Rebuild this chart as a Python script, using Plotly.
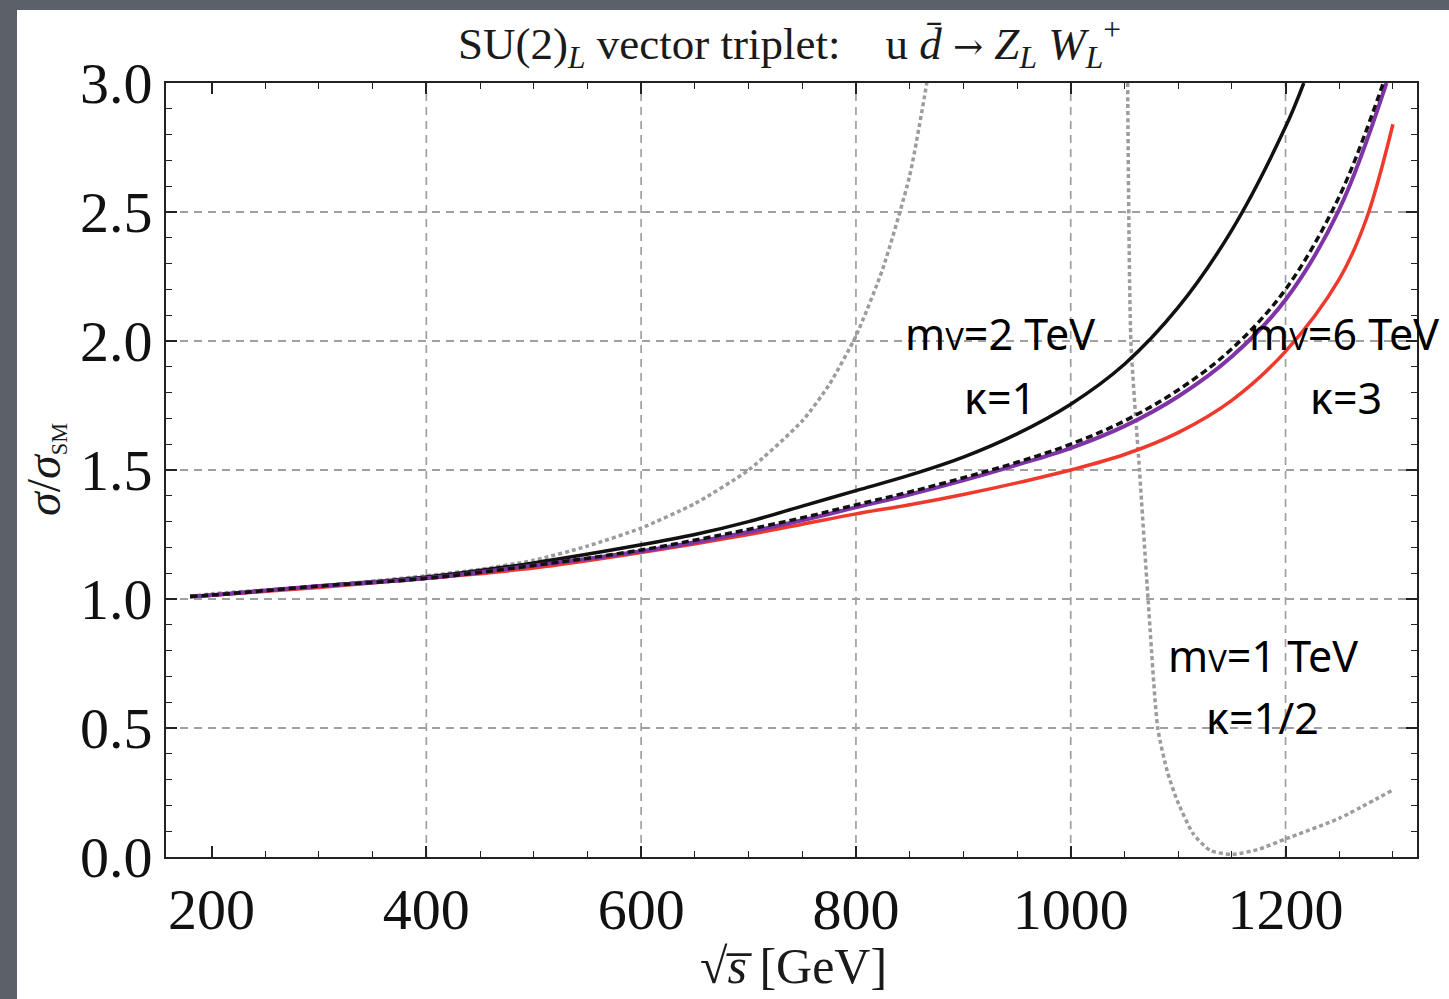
import plotly.graph_objects as go

# ---------------- data ----------------
x_black = [180, 200, 300, 400, 500, 600, 650, 700, 750, 800, 850, 900, 950, 1000, 1050, 1100, 1150, 1200, 1217]
y_black = [1.01, 1.015, 1.05, 1.085, 1.14, 1.21, 1.25, 1.30, 1.36, 1.42, 1.48, 1.55, 1.64, 1.755, 1.91, 2.13, 2.43, 2.83, 3.0]

x_dashed = [180, 200, 300, 400, 500, 600, 700, 750, 800, 850, 900, 950, 1000, 1050, 1100, 1150, 1200, 1250, 1291]
y_dashed = [1.01, 1.015, 1.05, 1.08, 1.13, 1.19, 1.27, 1.315, 1.365, 1.415, 1.47, 1.53, 1.60, 1.69, 1.81, 1.97, 2.20, 2.56, 3.0]

x_purple = [180, 200, 300, 400, 500, 600, 700, 750, 800, 850, 900, 950, 1000, 1050, 1100, 1150, 1200, 1250, 1294]
y_purple = [1.01, 1.015, 1.05, 1.08, 1.13, 1.185, 1.26, 1.305, 1.355, 1.405, 1.46, 1.52, 1.585, 1.67, 1.785, 1.94, 2.16, 2.51, 3.0]

x_red = [180, 200, 300, 400, 500, 600, 700, 750, 800, 850, 900, 950, 1000, 1050, 1100, 1150, 1200, 1250, 1275, 1300]
y_red = [1.01, 1.015, 1.045, 1.08, 1.12, 1.18, 1.25, 1.29, 1.33, 1.365, 1.405, 1.45, 1.50, 1.56, 1.645, 1.77, 1.96, 2.24, 2.47, 2.84]

x_dot_rise = [180, 200, 300, 400, 450, 500, 550, 600, 650, 700, 750, 775, 800, 825, 850, 866]
y_dot_rise = [1.01, 1.02, 1.05, 1.09, 1.115, 1.15, 1.205, 1.275, 1.37, 1.50, 1.69, 1.83, 2.02, 2.28, 2.64, 3.0]

x_dot_fall = [1053, 1056, 1064, 1072, 1081, 1090, 1099, 1114, 1130, 1150, 1175, 1200, 1250, 1300]
y_dot_fall = [3.0, 2.0, 1.5, 1.0, 0.5, 0.33, 0.22, 0.09, 0.025, 0.01, 0.03, 0.07, 0.15, 0.26]

x_gridlines = [400, 600, 800, 1000, 1200]

labels = [
    ("m<span style='font-size:31px'>V</span>=2 TeV", 934, 2.03),
    ("κ=1", 934, 1.78),
    ("m<span style='font-size:31px'>V</span>=6 TeV", 1254, 2.03),
    ("κ=3", 1256, 1.78),
    ("m<span style='font-size:31px'>V</span>=1 TeV", 1179, 0.78),
    ("κ=1/2", 1179, 0.54),
]

# ---------------- layout geometry ----------------
W, H = 1449, 999
L, R, T, B = 166, 32, 83, 142
PW, PH = W - L - R, H - T - B


def px_x(px):
    return (px - L) / PW


def px_y(py):
    return (H - B - py) / PH


fig = go.Figure()

dot_line = dict(color="#9c9c9c", width=3.5, dash="4px,3px", shape="spline", smoothing=0.6)
fig.add_trace(go.Scatter(x=x_dot_rise, y=y_dot_rise, mode="lines", line=dot_line, hoverinfo="skip"))
fig.add_trace(go.Scatter(x=x_dot_fall, y=y_dot_fall, mode="lines", line=dot_line, hoverinfo="skip"))
fig.add_trace(go.Scatter(x=x_black, y=y_black, mode="lines",
                         line=dict(color="#111111", width=3.5, shape="spline", smoothing=1.0), hoverinfo="skip"))
fig.add_trace(go.Scatter(x=x_red, y=y_red, mode="lines",
                         line=dict(color="#ee3a2c", width=3.5, shape="spline", smoothing=1.0), hoverinfo="skip"))
fig.add_trace(go.Scatter(x=x_purple, y=y_purple, mode="lines",
                         line=dict(color="#7f34a6", width=4, shape="spline", smoothing=1.0), hoverinfo="skip"))
fig.add_trace(go.Scatter(x=x_dashed, y=y_dashed, mode="lines",
                         line=dict(color="#111111", width=3.5, dash="7px,4px", shape="spline", smoothing=1.0),
                         hoverinfo="skip"))

shapes = [
    # white card over the grey slide background
    dict(type="rect", xref="paper", yref="paper", layer="below",
         x0=px_x(17), x1=px_x(W + 40), y0=px_y(H + 40), y1=px_y(10),
         fillcolor="white", line=dict(width=0)),
]
for gx in x_gridlines:
    shapes.append(dict(type="line", xref="x", yref="paper", layer="below",
                       x0=gx, x1=gx, y0=0, y1=1,
                       line=dict(color="#a0a0a0", width=1.7, dash="8px,6px")))

annotations = [
    dict(text="SU(2)<sub><i>L</i></sub> vector triplet:\u00a0\u00a0\u00a0\u00a0u <i>d\u0304</i> "
              "<span style='font-family:DejaVu Serif;font-size:36px'>\u2192</span> "
              "<i>Z</i><sub><i>L</i></sub> <i>W</i><sub><i>L</i></sub><sup>+</sup>",
         xref="paper", yref="paper", x=px_x(789), y=px_y(44), showarrow=False,
         font=dict(family="Liberation Serif", size=45, color="#1a1a1a"), xanchor="center", yanchor="middle"),
    dict(text="\u221a<i>s\u0305</i> [GeV]", xref="paper", yref="paper", x=px_x(793), y=px_y(966),
         showarrow=False, font=dict(family="Liberation Serif", size=50, color="#1a1a1a"),
         xanchor="center", yanchor="middle"),
    dict(text="<i>σ</i>/<i>σ</i><span style='font-size:32px'><sub>SM</sub></span>", xref="paper", yref="paper",
         x=px_x(44), y=px_y(470),
         showarrow=False, textangle=-90, font=dict(family="Liberation Serif", size=48, color="#1a1a1a"),
         xanchor="center", yanchor="middle"),
]
for txt, lx, ly in labels:
    annotations.append(dict(text=txt, x=lx, y=ly, xref="x", yref="y", showarrow=False,
                            font=dict(family="Noto Sans", size=43, color="black"),
                            xanchor="center", yanchor="middle"))

fig.update_layout(
    width=W, height=H,
    margin=dict(l=L, r=R, t=T, b=B),
    paper_bgcolor="#5c6169",
    plot_bgcolor="white",
    showlegend=False,
    shapes=shapes,
    annotations=annotations,
)

tickfont = dict(family="Liberation Serif", size=58, color="#111111")
fig.update_xaxes(
    range=[157.6, 1322.4], tick0=200, dtick=200,
    showgrid=False, zeroline=False,
    showline=True, linecolor="#222222", linewidth=2, mirror="ticks",
    ticks="inside", ticklen=11, tickwidth=1.6, tickcolor="#222222",
    tickfont=tickfont,
    minor=dict(ticks="inside", dtick=50, ticklen=6, tickwidth=1.4, tickcolor="#222222", showgrid=False),
)
fig.update_yaxes(
    range=[0, 3], tick0=0, dtick=0.5, tickformat=".1f",
    showgrid=True, gridcolor="#a0a0a0", gridwidth=1.7, griddash="8px,6px",
    zeroline=False,
    showline=True, linecolor="#222222", linewidth=2, mirror="ticks",
    ticks="inside", ticklen=11, tickwidth=1.6, tickcolor="#222222",
    tickfont=tickfont,
    minor=dict(ticks="inside", dtick=0.1, ticklen=6, tickwidth=1.4, tickcolor="#222222", showgrid=False),
)

fig.write_html(
    "out.html",
    config={"displayModeBar": False},
    post_script="document.body.style.margin='0px';document.body.style.overflow='hidden';"
                "document.body.style.background='#5c6169';",
)
